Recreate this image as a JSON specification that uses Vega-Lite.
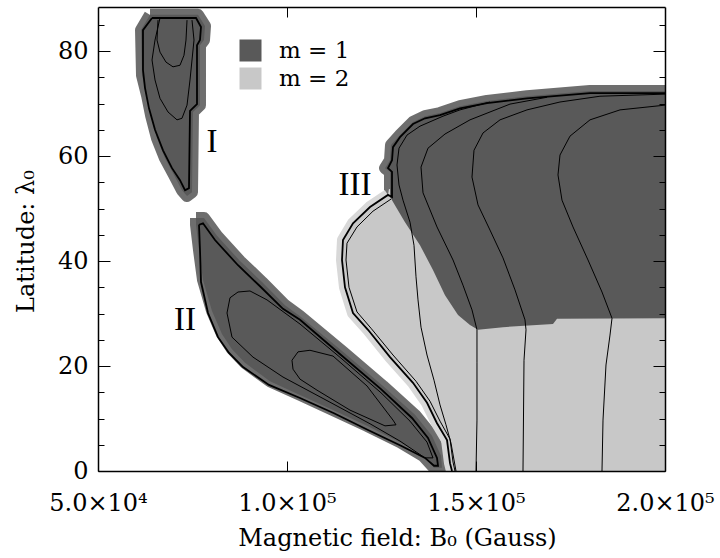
{
"$schema": "https://vega.github.io/schema/vega-lite/v6.json",
"width": 567, "height": 464,
"autosize": {"type": "none"},
"padding": {"left": 98, "top": 7, "right": 55, "bottom": 87},
"background": "white",
"config": {"view": {"stroke": null}, "font": "DejaVu Serif"},
"datasets": {
"poly": [
{"g":"I","m":"m = 1","o":1,"x":63760,"y":86.9},{"g":"I","m":"m = 1","o":2,"x":76460,"y":86.9},{"g":"I","m":"m = 1","o":3,"x":78310,"y":84.8},{"g":"I","m":"m = 1","o":4,"x":78040,"y":82.1},{"g":"I","m":"m = 1","o":5,"x":76980,"y":81.1},{"g":"I","m":"m = 1","o":6,"x":76980,"y":69.7},{"g":"I","m":"m = 1","o":7,"x":75130,"y":68.4},{"g":"I","m":"m = 1","o":8,"x":74870,"y":53.1},{"g":"I","m":"m = 1","o":9,"x":73550,"y":52.4},{"g":"I","m":"m = 1","o":10,"x":72220,"y":53.5},{"g":"I","m":"m = 1","o":11,"x":70110,"y":56.4},{"g":"I","m":"m = 1","o":12,"x":67720,"y":59.6},{"g":"I","m":"m = 1","o":13,"x":65610,"y":63.4},{"g":"I","m":"m = 1","o":14,"x":64020,"y":67.8},{"g":"I","m":"m = 1","o":15,"x":62960,"y":71.6},{"g":"I","m":"m = 1","o":16,"x":61640,"y":75.4},{"g":"I","m":"m = 1","o":17,"x":61380,"y":84.0},{"g":"I","m":"m = 1","o":18,"x":63760,"y":86.9},
{"g":"II","m":"m = 1","o":1,"x":75930,"y":48.2},{"g":"II","m":"m = 1","o":2,"x":78040,"y":48.2},{"g":"II","m":"m = 1","o":3,"x":81480,"y":44.8},{"g":"II","m":"m = 1","o":4,"x":87570,"y":40.0},{"g":"II","m":"m = 1","o":5,"x":93390,"y":36.0},{"g":"II","m":"m = 1","o":6,"x":99470,"y":31.6},{"g":"II","m":"m = 1","o":7,"x":103440,"y":29.5},{"g":"II","m":"m = 1","o":8,"x":114810,"y":22.7},{"g":"II","m":"m = 1","o":9,"x":125400,"y":16.2},{"g":"II","m":"m = 1","o":10,"x":133860,"y":10.7},{"g":"II","m":"m = 1","o":11,"x":138360,"y":6.7},{"g":"II","m":"m = 1","o":12,"x":140740,"y":2.9},{"g":"II","m":"m = 1","o":13,"x":141000,"y":0.6},{"g":"II","m":"m = 1","o":14,"x":138890,"y":0.6},{"g":"II","m":"m = 1","o":15,"x":135980,"y":2.9},{"g":"II","m":"m = 1","o":16,"x":129890,"y":5.5},{"g":"II","m":"m = 1","o":17,"x":121160,"y":8.6},{"g":"II","m":"m = 1","o":18,"x":112170,"y":11.6},{"g":"II","m":"m = 1","o":19,"x":103440,"y":14.5},{"g":"II","m":"m = 1","o":20,"x":95500,"y":17.1},{"g":"II","m":"m = 1","o":21,"x":88890,"y":20.6},{"g":"II","m":"m = 1","o":22,"x":85450,"y":23.2},{"g":"II","m":"m = 1","o":23,"x":82800,"y":26.1},{"g":"II","m":"m = 1","o":24,"x":80160,"y":30.5},{"g":"II","m":"m = 1","o":25,"x":77780,"y":36.4},{"g":"II","m":"m = 1","o":26,"x":76720,"y":42.1},{"g":"II","m":"m = 1","o":27,"x":75930,"y":46.9},{"g":"II","m":"m = 1","o":28,"x":75930,"y":48.2},
{"g":"III","m":"m = 1","o":1,"x":127250,"y":52.2},{"g":"III","m":"m = 1","o":2,"x":127250,"y":57.0},{"g":"III","m":"m = 1","o":3,"x":125930,"y":57.7},{"g":"III","m":"m = 1","o":4,"x":127250,"y":59.2},{"g":"III","m":"m = 1","o":5,"x":127510,"y":62.1},{"g":"III","m":"m = 1","o":6,"x":129890,"y":64.0},{"g":"III","m":"m = 1","o":7,"x":133330,"y":66.5},{"g":"III","m":"m = 1","o":8,"x":136510,"y":67.6},{"g":"III","m":"m = 1","o":9,"x":140480,"y":68.2},{"g":"III","m":"m = 1","o":10,"x":145770,"y":69.5},{"g":"III","m":"m = 1","o":11,"x":152910,"y":70.5},{"g":"III","m":"m = 1","o":12,"x":163490,"y":71.4},{"g":"III","m":"m = 1","o":13,"x":180160,"y":72.4},{"g":"III","m":"m = 1","o":14,"x":200000,"y":72.4},{"g":"III","m":"m = 1","o":15,"x":200000,"y":29.1},{"g":"III","m":"m = 1","o":16,"x":171430,"y":29.0},{"g":"III","m":"m = 1","o":17,"x":170370,"y":28.0},{"g":"III","m":"m = 1","o":18,"x":157140,"y":27.4},{"g":"III","m":"m = 1","o":19,"x":150530,"y":26.9},{"g":"III","m":"m = 1","o":20,"x":148410,"y":27.8},{"g":"III","m":"m = 1","o":21,"x":145240,"y":29.7},{"g":"III","m":"m = 1","o":22,"x":141800,"y":33.5},{"g":"III","m":"m = 1","o":23,"x":138620,"y":38.3},{"g":"III","m":"m = 1","o":24,"x":135190,"y":43.0},{"g":"III","m":"m = 1","o":25,"x":131220,"y":47.4},{"g":"III","m":"m = 1","o":26,"x":127780,"y":51.6},{"g":"III","m":"m = 1","o":27,"x":127250,"y":52.2},
{"g":"IIIb","m":"m = 2","o":1,"x":126720,"y":52.6},{"g":"IIIb","m":"m = 2","o":2,"x":121960,"y":50.3},{"g":"IIIb","m":"m = 2","o":3,"x":117460,"y":47.2},{"g":"IIIb","m":"m = 2","o":4,"x":114810,"y":44.0},{"g":"IIIb","m":"m = 2","o":5,"x":114550,"y":40.2},{"g":"IIIb","m":"m = 2","o":6,"x":115340,"y":35.0},{"g":"IIIb","m":"m = 2","o":7,"x":117460,"y":30.1},{"g":"IIIb","m":"m = 2","o":8,"x":121430,"y":26.9},{"g":"IIIb","m":"m = 2","o":9,"x":127250,"y":21.7},{"g":"IIIb","m":"m = 2","o":10,"x":133330,"y":16.8},{"g":"IIIb","m":"m = 2","o":11,"x":137040,"y":13.0},{"g":"IIIb","m":"m = 2","o":12,"x":139680,"y":9.1},{"g":"IIIb","m":"m = 2","o":13,"x":142330,"y":5.9},{"g":"IIIb","m":"m = 2","o":14,"x":143120,"y":1.5},{"g":"IIIb","m":"m = 2","o":15,"x":143650,"y":0},{"g":"IIIb","m":"m = 2","o":16,"x":200000,"y":0},{"g":"IIIb","m":"m = 2","o":17,"x":200000,"y":32.6},{"g":"IIIb","m":"m = 2","o":18,"x":151060,"y":32.6},{"g":"IIIb","m":"m = 2","o":19,"x":135190,"y":51.6},{"g":"IIIb","m":"m = 2","o":20,"x":126720,"y":52.6}
],
"lines": [
{"g":"Ib","c":"boundary","o":1,"x":64290,"y":86.3},{"g":"Ib","c":"boundary","o":2,"x":75930,"y":86.3},{"g":"Ib","c":"boundary","o":3,"x":77250,"y":84.6},{"g":"Ib","c":"boundary","o":4,"x":76980,"y":82.1},{"g":"Ib","c":"boundary","o":5,"x":76190,"y":81.1},{"g":"Ib","c":"boundary","o":6,"x":76190,"y":69.9},{"g":"Ib","c":"boundary","o":7,"x":74340,"y":68.6},{"g":"Ib","c":"boundary","o":8,"x":74070,"y":53.9},{"g":"Ib","c":"boundary","o":9,"x":73020,"y":53.5},{"g":"Ib","c":"boundary","o":10,"x":71690,"y":55.4},{"g":"Ib","c":"boundary","o":11,"x":69580,"y":57.7},{"g":"Ib","c":"boundary","o":12,"x":67200,"y":61.1},{"g":"Ib","c":"boundary","o":13,"x":65080,"y":65.0},{"g":"Ib","c":"boundary","o":14,"x":63490,"y":69.1},{"g":"Ib","c":"boundary","o":15,"x":62430,"y":73.0},{"g":"Ib","c":"boundary","o":16,"x":61900,"y":76.4},{"g":"Ib","c":"boundary","o":17,"x":61900,"y":84.0},{"g":"Ib","c":"boundary","o":18,"x":64290,"y":86.3},
{"g":"Iu","c":"level","o":1,"x":66400,"y":86.3},{"g":"Iu","c":"level","o":2,"x":65080,"y":82.1},{"g":"Iu","c":"level","o":3,"x":64290,"y":78.3},{"g":"Iu","c":"level","o":4,"x":65080,"y":74.5},{"g":"Iu","c":"level","o":5,"x":66400,"y":71.0},{"g":"Iu","c":"level","o":6,"x":68520,"y":68.4},{"g":"Iu","c":"level","o":7,"x":70900,"y":66.9},{"g":"Iu","c":"level","o":8,"x":72220,"y":67.2},{"g":"Iu","c":"level","o":9,"x":73550,"y":69.7},{"g":"Iu","c":"level","o":10,"x":74340,"y":74.5},{"g":"Iu","c":"level","o":11,"x":75400,"y":82.1},{"g":"Iu","c":"level","o":12,"x":74870,"y":85.9},
{"g":"Ii","c":"level","o":1,"x":65870,"y":85.9},{"g":"Ii","c":"level","o":2,"x":65610,"y":82.1},{"g":"Ii","c":"level","o":3,"x":66400,"y":79.8},{"g":"Ii","c":"level","o":4,"x":67990,"y":77.9},{"g":"Ii","c":"level","o":5,"x":69840,"y":77.0},{"g":"Ii","c":"level","o":6,"x":71690,"y":77.3},{"g":"Ii","c":"level","o":7,"x":72750,"y":79.2},{"g":"Ii","c":"level","o":8,"x":73280,"y":82.1},{"g":"Ii","c":"level","o":9,"x":73550,"y":85.9},
{"g":"IIb","c":"boundary","o":1,"x":76720,"y":46.9},{"g":"IIb","c":"boundary","o":2,"x":77780,"y":47.2},{"g":"IIb","c":"boundary","o":3,"x":80950,"y":44.0},{"g":"IIb","c":"boundary","o":4,"x":87040,"y":39.2},{"g":"IIb","c":"boundary","o":5,"x":92860,"y":35.2},{"g":"IIb","c":"boundary","o":6,"x":98940,"y":30.9},{"g":"IIb","c":"boundary","o":7,"x":103440,"y":28.8},{"g":"IIb","c":"boundary","o":8,"x":114290,"y":22.1},{"g":"IIb","c":"boundary","o":9,"x":124870,"y":15.6},{"g":"IIb","c":"boundary","o":10,"x":133070,"y":10.1},{"g":"IIb","c":"boundary","o":11,"x":137300,"y":6.3},{"g":"IIb","c":"boundary","o":12,"x":139680,"y":2.5},{"g":"IIb","c":"boundary","o":13,"x":139950,"y":1.0},{"g":"IIb","c":"boundary","o":14,"x":138890,"y":1.0},{"g":"IIb","c":"boundary","o":15,"x":136510,"y":2.5},{"g":"IIb","c":"boundary","o":16,"x":130160,"y":4.8},{"g":"IIb","c":"boundary","o":17,"x":121430,"y":7.8},{"g":"IIb","c":"boundary","o":18,"x":112430,"y":11.0},{"g":"IIb","c":"boundary","o":19,"x":103440,"y":13.9},{"g":"IIb","c":"boundary","o":20,"x":95240,"y":16.4},{"g":"IIb","c":"boundary","o":21,"x":88360,"y":19.8},{"g":"IIb","c":"boundary","o":22,"x":84660,"y":22.5},{"g":"IIb","c":"boundary","o":23,"x":81750,"y":25.5},{"g":"IIb","c":"boundary","o":24,"x":79100,"y":30.1},{"g":"IIb","c":"boundary","o":25,"x":77250,"y":36.0},{"g":"IIb","c":"boundary","o":26,"x":76980,"y":42.1},{"g":"IIb","c":"boundary","o":27,"x":76720,"y":46.9},
{"g":"IIm","c":"level","o":1,"x":138620,"y":2.5},{"g":"IIm","c":"level","o":2,"x":137040,"y":5.5},{"g":"IIm","c":"level","o":3,"x":132540,"y":9.5},{"g":"IIm","c":"level","o":4,"x":124870,"y":14.9},{"g":"IIm","c":"level","o":5,"x":114290,"y":21.5},{"g":"IIm","c":"level","o":6,"x":103440,"y":28.0},{"g":"IIm","c":"level","o":7,"x":94710,"y":32.6},{"g":"IIm","c":"level","o":8,"x":90210,"y":34.3},{"g":"IIm","c":"level","o":9,"x":87040,"y":34.1},{"g":"IIm","c":"level","o":10,"x":84920,"y":33.0},{"g":"IIm","c":"level","o":11,"x":84130,"y":30.1},{"g":"IIm","c":"level","o":12,"x":85450,"y":25.5},{"g":"IIm","c":"level","o":13,"x":91000,"y":21.7},{"g":"IIm","c":"level","o":14,"x":98940,"y":17.9},{"g":"IIm","c":"level","o":15,"x":112170,"y":12.8},{"g":"IIm","c":"level","o":16,"x":121960,"y":9.0},{"g":"IIm","c":"level","o":17,"x":129890,"y":5.7},{"g":"IIm","c":"level","o":18,"x":136510,"y":2.5},{"g":"IIm","c":"level","o":19,"x":138620,"y":2.5},
{"g":"IIi","c":"level","o":1,"x":101320,"y":21.1},{"g":"IIi","c":"level","o":2,"x":102910,"y":22.7},{"g":"IIi","c":"level","o":3,"x":106080,"y":23.0},{"g":"IIi","c":"level","o":4,"x":112170,"y":21.9},{"g":"IIi","c":"level","o":5,"x":121160,"y":16.2},{"g":"IIi","c":"level","o":6,"x":128040,"y":9.7},{"g":"IIi","c":"level","o":7,"x":128840,"y":8.8},{"g":"IIi","c":"level","o":8,"x":125930,"y":8.6},{"g":"IIi","c":"level","o":9,"x":116670,"y":11.6},{"g":"IIi","c":"level","o":10,"x":107940,"y":15.4},{"g":"IIi","c":"level","o":11,"x":103440,"y":17.5},{"g":"IIi","c":"level","o":12,"x":101590,"y":19.4},{"g":"IIi","c":"level","o":13,"x":101320,"y":21.1},
{"g":"IIIb","c":"boundary","o":1,"x":200000,"y":72.0},{"g":"IIIb","c":"boundary","o":2,"x":180160,"y":72.0},{"g":"IIIb","c":"boundary","o":3,"x":163490,"y":71.0},{"g":"IIIb","c":"boundary","o":4,"x":152910,"y":70.1},{"g":"IIIb","c":"boundary","o":5,"x":145770,"y":69.1},{"g":"IIIb","c":"boundary","o":6,"x":140480,"y":67.8},{"g":"IIIb","c":"boundary","o":7,"x":136510,"y":67.2},{"g":"IIIb","c":"boundary","o":8,"x":133330,"y":66.1},{"g":"IIIb","c":"boundary","o":9,"x":129890,"y":63.6},{"g":"IIIb","c":"boundary","o":10,"x":128040,"y":61.7},{"g":"IIIb","c":"boundary","o":11,"x":127780,"y":59.2},{"g":"IIIb","c":"boundary","o":12,"x":126720,"y":57.7},{"g":"IIIb","c":"boundary","o":13,"x":127780,"y":57.0},{"g":"IIIb","c":"boundary","o":14,"x":127780,"y":52.2},{"g":"IIIb","c":"boundary","o":15,"x":126720,"y":52.6},{"g":"IIIb","c":"boundary","o":16,"x":121960,"y":50.3},{"g":"IIIb","c":"boundary","o":17,"x":117460,"y":47.2},{"g":"IIIb","c":"boundary","o":18,"x":114810,"y":44.0},{"g":"IIIb","c":"boundary","o":19,"x":114550,"y":40.2},{"g":"IIIb","c":"boundary","o":20,"x":115340,"y":35.0},{"g":"IIIb","c":"boundary","o":21,"x":117460,"y":30.1},{"g":"IIIb","c":"boundary","o":22,"x":121430,"y":26.9},{"g":"IIIb","c":"boundary","o":23,"x":127250,"y":21.7},{"g":"IIIb","c":"boundary","o":24,"x":133330,"y":16.8},{"g":"IIIb","c":"boundary","o":25,"x":137040,"y":13.0},{"g":"IIIb","c":"boundary","o":26,"x":139680,"y":9.1},{"g":"IIIb","c":"boundary","o":27,"x":142330,"y":5.9},{"g":"IIIb","c":"boundary","o":28,"x":143120,"y":1.5},{"g":"IIIb","c":"boundary","o":29,"x":143650,"y":0},
{"g":"IIIp","c":"level","o":1,"x":127510,"y":51.8},{"g":"IIIp","c":"level","o":2,"x":122750,"y":49.5},{"g":"IIIp","c":"level","o":3,"x":118520,"y":46.5},{"g":"IIIp","c":"level","o":4,"x":115870,"y":43.4},{"g":"IIIp","c":"level","o":5,"x":115610,"y":40.2},{"g":"IIIp","c":"level","o":6,"x":116400,"y":35.0},{"g":"IIIp","c":"level","o":7,"x":118520,"y":30.3},{"g":"IIIp","c":"level","o":8,"x":122220,"y":27.2},{"g":"IIIp","c":"level","o":9,"x":128040,"y":22.1},{"g":"IIIp","c":"level","o":10,"x":134130,"y":17.1},{"g":"IIIp","c":"level","o":11,"x":137830,"y":13.3},{"g":"IIIp","c":"level","o":12,"x":140480,"y":9.5},{"g":"IIIp","c":"level","o":13,"x":143120,"y":6.1},{"g":"IIIp","c":"level","o":14,"x":143920,"y":1.7},{"g":"IIIp","c":"level","o":15,"x":144440,"y":0},
{"g":"IIIa","c":"level","o":1,"x":153700,"y":70.3},{"g":"IIIa","c":"level","o":2,"x":145770,"y":68.8},{"g":"IIIa","c":"level","o":3,"x":141270,"y":67.6},{"g":"IIIa","c":"level","o":4,"x":135190,"y":65.7},{"g":"IIIa","c":"level","o":5,"x":131750,"y":64.0},{"g":"IIIa","c":"level","o":6,"x":129630,"y":61.5},{"g":"IIIa","c":"level","o":7,"x":129100,"y":58.3},{"g":"IIIa","c":"level","o":8,"x":129630,"y":54.5},{"g":"IIIa","c":"level","o":9,"x":130690,"y":51.6},{"g":"IIIa","c":"level","o":10,"x":132540,"y":47.4},{"g":"IIIa","c":"level","o":11,"x":133600,"y":43.0},{"g":"IIIa","c":"level","o":12,"x":134130,"y":37.0},{"g":"IIIa","c":"level","o":13,"x":134660,"y":32.6},{"g":"IIIa","c":"level","o":14,"x":135450,"y":27.4},{"g":"IIIa","c":"level","o":15,"x":137040,"y":22.1},{"g":"IIIa","c":"level","o":16,"x":138890,"y":17.3},{"g":"IIIa","c":"level","o":17,"x":140480,"y":12.6},{"g":"IIIa","c":"level","o":18,"x":142060,"y":8.8},{"g":"IIIa","c":"level","o":19,"x":143390,"y":5.3},{"g":"IIIa","c":"level","o":20,"x":144180,"y":2.1},{"g":"IIIa","c":"level","o":21,"x":144710,"y":0},
{"g":"IIIc1","c":"level","o":1,"x":168780,"y":71.2},{"g":"IIIc1","c":"level","o":2,"x":159000,"y":69.9},{"g":"IIIc1","c":"level","o":3,"x":148410,"y":66.9},{"g":"IIIc1","c":"level","o":4,"x":141800,"y":64.2},{"g":"IIIc1","c":"level","o":5,"x":137300,"y":61.5},{"g":"IIIc1","c":"level","o":6,"x":135450,"y":57.9},{"g":"IIIc1","c":"level","o":7,"x":135980,"y":53.0},{"g":"IIIc1","c":"level","o":8,"x":139680,"y":46.5},{"g":"IIIc1","c":"level","o":9,"x":143920,"y":40.2},{"g":"IIIc1","c":"level","o":10,"x":146560,"y":35.4},{"g":"IIIc1","c":"level","o":11,"x":148940,"y":30.7},{"g":"IIIc1","c":"level","o":12,"x":150260,"y":26.9},{"g":"IIIc1","c":"level","o":13,"x":150260,"y":20.6},{"g":"IIIc1","c":"level","o":14,"x":150260,"y":9.7},{"g":"IIIc1","c":"level","o":15,"x":150000,"y":0},
{"g":"IIIc2","c":"level","o":1,"x":200000,"y":71.8},{"g":"IIIc2","c":"level","o":2,"x":182800,"y":71.4},{"g":"IIIc2","c":"level","o":3,"x":172220,"y":70.3},{"g":"IIIc2","c":"level","o":4,"x":163490,"y":68.8},{"g":"IIIc2","c":"level","o":5,"x":156350,"y":66.9},{"g":"IIIc2","c":"level","o":6,"x":151850,"y":64.4},{"g":"IIIc2","c":"level","o":7,"x":149470,"y":61.1},{"g":"IIIc2","c":"level","o":8,"x":148940,"y":56.0},{"g":"IIIc2","c":"level","o":9,"x":150530,"y":50.7},{"g":"IIIc2","c":"level","o":10,"x":153700,"y":45.9},{"g":"IIIc2","c":"level","o":11,"x":157140,"y":40.6},{"g":"IIIc2","c":"level","o":12,"x":160320,"y":34.5},{"g":"IIIc2","c":"level","o":13,"x":162960,"y":28.8},{"g":"IIIc2","c":"level","o":14,"x":163230,"y":26.9},{"g":"IIIc2","c":"level","o":15,"x":162700,"y":21.1},{"g":"IIIc2","c":"level","o":16,"x":162430,"y":0},
{"g":"IIIc3","c":"level","o":1,"x":200000,"y":69.7},{"g":"IIIc3","c":"level","o":2,"x":188100,"y":68.8},{"g":"IIIc3","c":"level","o":3,"x":180160,"y":66.9},{"g":"IIIc3","c":"level","o":4,"x":174870,"y":63.8},{"g":"IIIc3","c":"level","o":5,"x":172220,"y":60.2},{"g":"IIIc3","c":"level","o":6,"x":171690,"y":56.4},{"g":"IIIc3","c":"level","o":7,"x":172750,"y":51.6},{"g":"IIIc3","c":"level","o":8,"x":175660,"y":46.5},{"g":"IIIc3","c":"level","o":9,"x":179630,"y":40.2},{"g":"IIIc3","c":"level","o":10,"x":183330,"y":34.1},{"g":"IIIc3","c":"level","o":11,"x":185980,"y":29.1},{"g":"IIIc3","c":"level","o":12,"x":185450,"y":25.9},{"g":"IIIc3","c":"level","o":13,"x":184390,"y":20.2},{"g":"IIIc3","c":"level","o":14,"x":183600,"y":9.7},{"g":"IIIc3","c":"level","o":15,"x":183330,"y":0}
],
"labels": [
{"t":"I","x":80160,"y":62.7},{"t":"II","x":73020,"y":28.8},{"t":"III","x":117990,"y":54.5}
]
},
"encoding": {
"x": {"field": "x", "type": "quantitative", "scale": {"domain": [50000, 200000], "nice": false, "zero": false}, "axis": null},
"y": {"field": "y", "type": "quantitative", "scale": {"domain": [0, 88.4], "nice": false, "zero": false}, "axis": null}
},
"layer": [
{
"data": {"name": "poly"},
"transform": [{"filter": "datum.m === 'm = 1'"}],
"mark": {"type": "line", "stroke": "#6e6e6e", "strokeWidth": 12, "strokeJoin": "round", "clip": true},
"encoding": {
"x": {"field": "x", "type": "quantitative", "scale": {"domain": [50000, 200000], "nice": false, "zero": false},
"axis": {"orient": "bottom", "values": [50000, 100000, 150000, 200000],
"labelExpr": "datum.value == 50000 ? '5.0×10⁴' : datum.value == 100000 ? '1.0×10⁵' : datum.value == 150000 ? '1.5×10⁵' : '2.0×10⁵'",
"tickSize": -10, "tickColor": "black", "tickWidth": 1, "domainColor": "black", "domainWidth": 1.5,
"labelFont": "DejaVu Serif", "labelFontSize": 24, "labelColor": "black", "labelBaseline": "alphabetic", "labelPadding": 49,
"labelFlush": false, "labelOverlap": false, "grid": false,
"title": "Magnetic field: B₀ (Gauss)", "titleFont": "DejaVu Serif", "titleFontSize": 24, "titleFontWeight": "normal", "titleColor": "black",
"titleX": 299, "titleY": 74, "titleBaseline": "alphabetic", "titleAlign": "center", "zindex": 1}},
"y": {"field": "y", "type": "quantitative", "scale": {"domain": [0, 88.4], "nice": false, "zero": false},
"axis": {"orient": "left", "values": [0,5,10,15,20,25,30,35,40,45,50,55,60,65,70,75,80,85],
"labelExpr": "datum.value % 20 === 0 ? datum.label : ''",
"tickSize": {"condition": {"test": "datum.value % 20 === 0", "value": -12}, "value": -6},
"tickColor": "black", "tickWidth": 1, "domainColor": "black", "domainWidth": 1.5,
"labelFont": "DejaVu Serif", "labelFontSize": 24, "labelColor": "black", "labelPadding": 22, "labelOverlap": false, "labelFlush": false, "grid": false,
"title": "Latitude: λ₀", "titleFont": "DejaVu Serif", "titleFontSize": 24, "titleFontWeight": "normal", "titleColor": "black",
"titleAngle": 270, "titleX": -65, "titleY": 234, "titleBaseline": "alphabetic", "titleAlign": "center", "zindex": 1}},
"order": {"field": "o", "type": "quantitative"},
"detail": {"field": "g"}
}
},
{
"data": {"name": "poly"},
"transform": [{"filter": "datum.m === 'm = 2'"}],
"mark": {"type": "line", "stroke": "#d8d8d8", "strokeWidth": 12, "strokeJoin": "round", "clip": true},
"encoding": {
"x": {"field": "x", "type": "quantitative", "scale": {"domain": [50000, 200000], "nice": false, "zero": false},
"axis": {"orient": "top", "values": [100000, 150000], "labels": false, "tickSize": -10, "tickColor": "black", "tickWidth": 1,
"domainColor": "black", "domainWidth": 1.5, "grid": false, "title": null, "zindex": 1}},
"y": {"field": "y", "type": "quantitative", "scale": {"domain": [0, 88.4], "nice": false, "zero": false},
"axis": {"orient": "right", "values": [0,5,10,15,20,25,30,35,40,45,50,55,60,65,70,75,80,85], "labels": false,
"tickSize": {"condition": {"test": "datum.value % 20 === 0", "value": -12}, "value": -6},
"tickColor": "black", "tickWidth": 1, "domainColor": "black", "domainWidth": 1.5, "grid": false, "title": null, "zindex": 1}},
"order": {"field": "o", "type": "quantitative"},
"detail": {"field": "g"}
}
},
{
"data": {"name": "poly"},
"transform": [{"filter": "datum.m === 'm = 2'"}],
"mark": {"type": "line", "strokeWidth": 0, "stroke": "transparent", "clip": true},
"encoding": {
"fill": {"field": "m", "type": "nominal", "scale": {"domain": ["m = 1", "m = 2"], "range": ["#595959", "#c8c8c8"]},
"legend": {"title": null, "orient": "none", "legendX": 141, "legendY": 32, "symbolType": "square", "symbolSize": 484,
"symbolStrokeWidth": 0, "symbolOpacity": 1, "labelFont": "DejaVu Serif", "labelFontSize": 23, "labelColor": "black",
"labelOffset": 17, "rowPadding": 4, "padding": 0, "direction": "vertical"}},
"order": {"field": "o", "type": "quantitative"},
"detail": {"field": "g"}
}
},
{
"data": {"name": "poly"},
"transform": [{"filter": "datum.m === 'm = 1'"}],
"mark": {"type": "line", "strokeWidth": 0, "stroke": "transparent", "clip": true},
"encoding": {
"fill": {"field": "m", "type": "nominal", "scale": {"domain": ["m = 1", "m = 2"], "range": ["#595959", "#c8c8c8"]}},
"order": {"field": "o", "type": "quantitative"},
"detail": {"field": "g"}
}
},
{
"data": {"name": "lines"},
"transform": [{"filter": "datum.c === 'level'"}],
"mark": {"type": "line", "stroke": "black", "strokeWidth": 1, "clip": true},
"encoding": {
"order": {"field": "o", "type": "quantitative"},
"detail": {"field": "g"}
}
},
{
"data": {"name": "lines"},
"transform": [{"filter": "datum.c === 'boundary'"}],
"mark": {"type": "line", "stroke": "black", "strokeWidth": 1.8, "clip": true},
"encoding": {
"order": {"field": "o", "type": "quantitative"},
"detail": {"field": "g"}
}
},
{
"data": {"name": "labels"},
"mark": {"type": "text", "font": "Liberation Serif", "fontSize": 33, "color": "black", "align": "center", "baseline": "middle"},
"encoding": {
"text": {"field": "t"}
}
}
],
"resolve": {"axis": {"x": "independent", "y": "independent"}}
}
